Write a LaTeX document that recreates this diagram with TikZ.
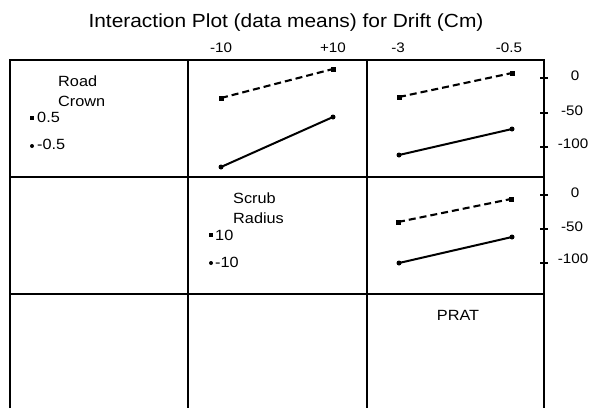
\documentclass[tikz,border=0pt]{standalone}
\usepackage{fontspec}
\setmainfont{Liberation Sans}[FakeStretch=1.1]
\begin{document}
\begin{tikzpicture}[x=1pt,y=-1pt,
  gridline/.style={line width=2.1pt,black},
  dashser/.style={line width=2.1pt,dash pattern=on 7pt off 4pt},
  solidser/.style={line width=2pt},
  sqmark/.style={fill=black,minimum size=5pt,inner sep=0pt,draw=none,rectangle},
  dotmark/.style={fill=black,minimum size=5pt,inner sep=0pt,draw=none,circle},
  ticklab/.style={anchor=base,font=\fontsize{13.8}{15}\selectfont,inner sep=0pt},
  legtext/.style={anchor=base west,font=\fontsize{14.8}{16}\selectfont,inner sep=0pt},
  titletext/.style={anchor=base,font=\fontsize{19}{22}\selectfont,inner sep=0pt}]
\useasboundingbox (0,0) rectangle (589,408);
% grid
\coordinate (tl) at (10,60);
\coordinate (tr) at (544,60);
\coordinate (bl) at (10,408);
\coordinate (br) at (544,408);
\draw[gridline] (bl) -- (tl) -- (tr) -- (br);
\coordinate (c1t) at (188,60); \coordinate (c1b) at (188,408);
\coordinate (c2t) at (367,60); \coordinate (c2b) at (367,408);
\draw[gridline] (c1t) -- (c1b);
\draw[gridline] (c2t) -- (c2b);
\coordinate (r1l) at (10,177); \coordinate (r1r) at (544,177);
\coordinate (r2l) at (10,294); \coordinate (r2r) at (544,294);
\draw[gridline] (r1l) -- (r1r);
\draw[gridline] (r2l) -- (r2r);
% ticks on right axis
\foreach \t [count=\i] in {78,113,147,195,229,263}{
  \coordinate (tka\i) at (540,\t);
  \coordinate (tkb\i) at (548,\t);
  \draw[line width=1.8pt] (tka\i) -- (tkb\i);
}
% title
\node[titletext] (title) at (286,27) {Interaction Plot (data means) for Drift (Cm)};
% top labels
\node[ticklab] (xa1) at (221,52) {-10};
\node[ticklab] (xa2) at (333,52) {+10};
\node[ticklab] (xb1) at (398,52) {-3};
\node[ticklab] (xb2) at (509,52) {-0.5};
% right labels
\node[ticklab] (ya1) at (575,80) {0};
\node[ticklab] (ya2) at (572,115) {-50};
\node[ticklab] (ya3) at (573,148) {-100};
\node[ticklab] (yb1) at (575,197) {0};
\node[ticklab] (yb2) at (572,231) {-50};
\node[ticklab] (yb3) at (573,263) {-100};
% legend Road Crown
\node[legtext] (rc1) at (58,86) {Road};
\node[legtext] (rc2) at (58,106) {Crown};
\node[sqmark,minimum size=4pt] (lgm1) at (32,118) {};
\node[legtext] (lg1) at (37,122) {0.5};
\node[dotmark,minimum size=4pt] (lgm2) at (32,146) {};
\node[legtext] (lg2) at (37,149) {-0.5};
% legend Scrub Radius
\node[legtext] (sr1) at (233,203) {Scrub};
\node[legtext] (sr2) at (233,223) {Radius};
\node[sqmark,minimum size=4pt] (lgm3) at (211,235) {};
\node[legtext] (lg3) at (215,240) {10};
\node[dotmark,minimum size=4pt] (lgm4) at (211,263) {};
\node[legtext] (lg4) at (215,267) {-10};
% PRAT
\node[anchor=base,font=\fontsize{14.8}{16}\selectfont,inner sep=0pt] (prat) at (458,320) {PRAT};
% cell (row1,col2)
\node[sqmark] (p1a) at (221,98) {};
\node[sqmark] (p1b) at (333,69) {};
\node[dotmark] (p2a) at (221,167) {};
\node[dotmark] (p2b) at (333,117) {};
\draw[dashser] (p1a.center) -- (p1b.center);
\draw[solidser] (p2a.center) -- (p2b.center);
% cell (row1,col3)
\node[sqmark] (p3a) at (399,97) {};
\node[sqmark] (p3b) at (512,73) {};
\node[dotmark] (p4a) at (399,155) {};
\node[dotmark] (p4b) at (512,129) {};
\draw[dashser] (p3a.center) -- (p3b.center);
\draw[solidser] (p4a.center) -- (p4b.center);
% cell (row2,col3)
\node[sqmark] (p5a) at (398,222) {};
\node[sqmark] (p5b) at (511,199) {};
\node[dotmark] (p6a) at (399,263) {};
\node[dotmark] (p6b) at (512,237) {};
\draw[dashser] (p5a.center) -- (p5b.center);
\draw[solidser] (p6a.center) -- (p6b.center);
\end{tikzpicture}
\end{document}
